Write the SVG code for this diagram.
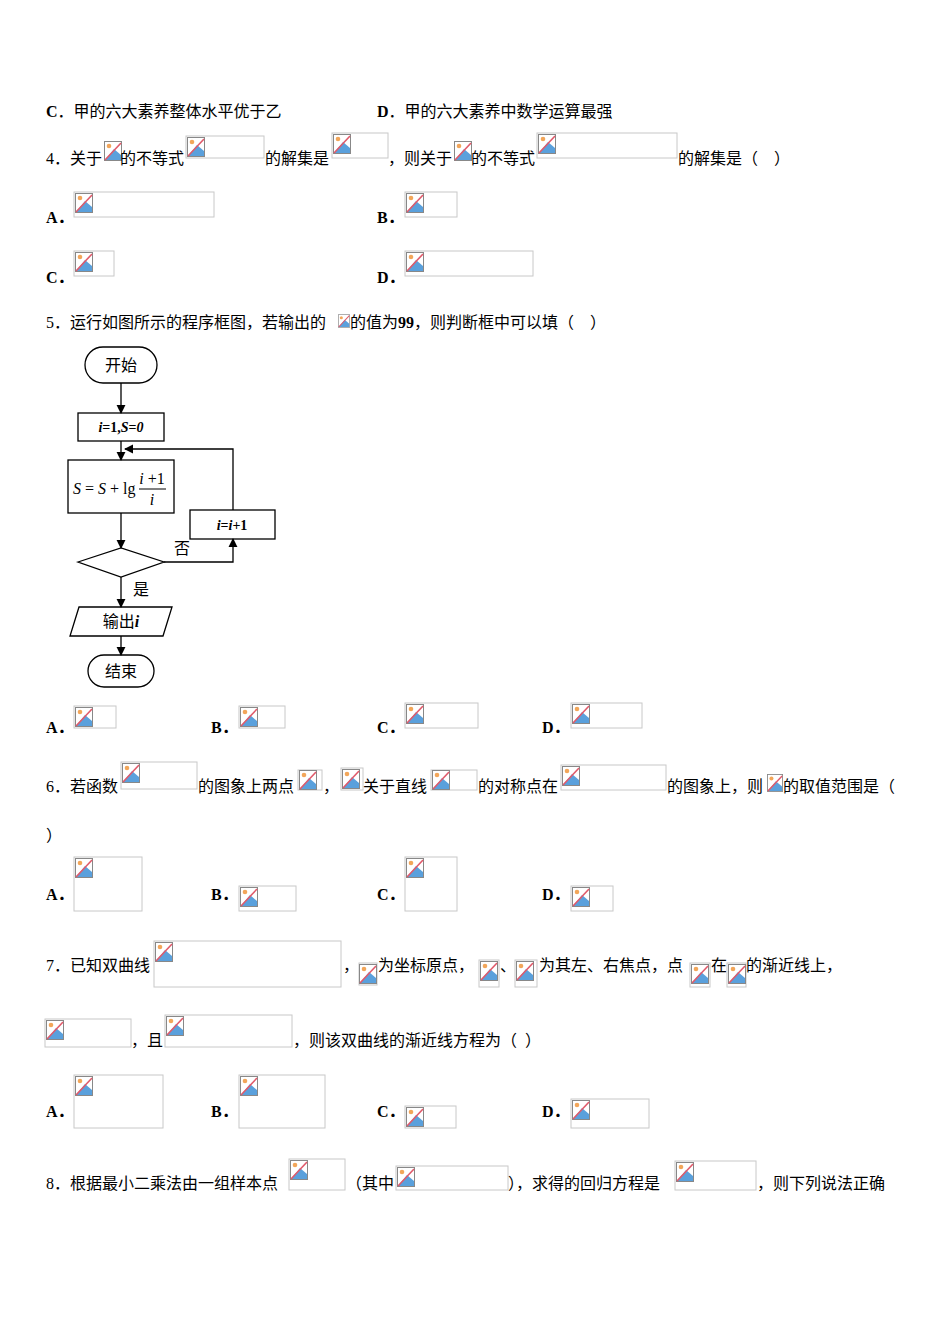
<svg xmlns="http://www.w3.org/2000/svg" xmlns:xlink="http://www.w3.org/1999/xlink" width="950" height="1344" viewBox="0 0 950 1344">
<style>
text{font-family:"Liberation Serif","Noto Sans CJK SC",serif;font-size:16px;fill:#000}
.b{font-weight:bold}
.bx{fill:none;stroke:#c8c8c8;stroke-width:1}
.fl{fill:none;stroke:#000;stroke-width:1.3}
.fc{font-size:16px}
.it{font-style:italic;font-weight:bold;font-size:14px}
</style>
<defs>
<symbol id="ic" viewBox="0 0 18 20" width="18" height="20">
<rect x="0.5" y="0.5" width="17" height="19" fill="#fff" stroke="#888"/>
<path d="M1 19 L10 8 L17 14 L17 19 Z" fill="#5aa0dc"/>
<circle cx="5" cy="5" r="2.3" fill="#f2a65a"/>
<line x1="1" y1="19" x2="17" y2="2" stroke="#e05a6a" stroke-width="1.6"/>
</symbol>
<marker id="ar" viewBox="0 0 10 10" refX="9" refY="5" markerWidth="7" markerHeight="7" orient="auto"><path d="M0 0 L10 5 L0 10 Z" fill="#000"/></marker>
</defs>
<rect width="950" height="1344" fill="#fff"/>

<text x="46" y="117"><tspan class="b">C</tspan>．甲的六大素养整体水平优于乙</text>
<text x="377" y="117"><tspan class="b">D</tspan>．甲的六大素养中数学运算最强</text>

<text x="46" y="164">4．关于</text><use href="#ic" x="104" y="141"/>
<text x="120" y="164">的不等式</text><rect class="bx" x="186" y="136" width="78" height="22"/><use href="#ic" x="187" y="137"/>
<text x="265" y="164">的解集是</text><rect class="bx" x="332" y="133" width="56" height="25"/><use href="#ic" x="333" y="134"/>
<text x="388" y="164">，则关于</text><use href="#ic" x="454" y="141"/>
<text x="471" y="164">的不等式</text><rect class="bx" x="537" y="133" width="140" height="25"/><use href="#ic" x="538" y="134"/>
<text x="678" y="164">的解集是（&#160;&#160;&#160;&#160;）</text>

<text x="46" y="223" class="b">A．</text><rect class="bx" x="74" y="192" width="140" height="25"/><use href="#ic" x="75" y="193"/>
<text x="377" y="223" class="b">B．</text><rect class="bx" x="405" y="192" width="52" height="25"/><use href="#ic" x="406" y="193"/>
<text x="46" y="283" class="b">C．</text><rect class="bx" x="74" y="251" width="40" height="25"/><use href="#ic" x="75" y="252"/>
<text x="377" y="283" class="b">D．</text><rect class="bx" x="405" y="251" width="128" height="25"/><use href="#ic" x="406" y="252"/>

<text x="46" y="328">5．运行如图所示的程序框图，若输出的</text><use href="#ic" x="338" y="311" width="12" height="20"/>
<text x="350" y="328">的值为<tspan class="b">99</tspan>，则判断框中可以填（&#160;&#160;&#160;&#160;）</text>

<g id="connectors">
<line class="fl" x1="121" y1="383" x2="121" y2="413" marker-end="url(#ar)"/>
<line class="fl" x1="121" y1="441" x2="121" y2="460" marker-end="url(#ar)"/>
<polyline class="fl" points="233,510 233,449 125,449" marker-end="url(#ar)"/>
<line class="fl" x1="121" y1="513" x2="121" y2="548" marker-end="url(#ar)"/>
<polyline class="fl" points="164,562 233,562 233,539" marker-end="url(#ar)"/>
<line class="fl" x1="121" y1="577" x2="121" y2="607" marker-end="url(#ar)"/>
<line class="fl" x1="121" y1="636" x2="121" y2="655" marker-end="url(#ar)"/>
</g>
<g id="start"><rect class="fl" x="85" y="347" width="72" height="36" rx="18"/><text class="fc" x="121" y="371" text-anchor="middle">开始</text></g>
<g id="init"><rect class="fl" x="78" y="413" width="86" height="28"/><text class="it" x="121" y="432" text-anchor="middle">i<tspan font-style="normal">=1,</tspan>S<tspan font-style="normal">=</tspan>0</text></g>
<g id="sum"><rect class="fl" x="68" y="460" width="106" height="53"/>
<text x="73" y="494" font-size="14"><tspan font-style="italic">S</tspan> = <tspan font-style="italic">S</tspan> + lg</text>
<text x="152" y="484" font-size="13" text-anchor="middle"><tspan font-style="italic">i</tspan> +1</text>
<line x1="139" y1="489" x2="166" y2="489" stroke="#000" stroke-width="1"/>
<text x="152" y="505" font-size="13" font-style="italic" text-anchor="middle">i</text></g>
<g id="inc"><rect class="fl" x="190" y="510" width="85" height="29"/><text class="it" x="232" y="530" text-anchor="middle">i<tspan font-style="normal">=</tspan>i<tspan font-style="normal">+1</tspan></text></g>
<g id="cond"><polygon class="fl" points="78,562 121,548 164,562 121,577"/></g>
<text x="174" y="554" font-size="14">否</text>
<text x="133" y="595" font-size="14">是</text>
<g id="out"><polygon class="fl" points="79,607 172,607 163,636 70,636"/><text class="fc" x="121" y="627" text-anchor="middle">输出<tspan font-style="italic" font-weight="bold">i</tspan></text></g>
<g id="end"><rect class="fl" x="88" y="655" width="66" height="32" rx="16"/><text class="fc" x="121" y="677" text-anchor="middle">结束</text></g>

<text x="46" y="733" class="b">A．</text><rect class="bx" x="74" y="706" width="42" height="22"/><use href="#ic" x="75" y="707"/>
<text x="211" y="733" class="b">B．</text><rect class="bx" x="239" y="706" width="46" height="22"/><use href="#ic" x="240" y="707"/>
<text x="377" y="733" class="b">C．</text><rect class="bx" x="405" y="703" width="73" height="25"/><use href="#ic" x="406" y="704"/>
<text x="542" y="733" class="b">D．</text><rect class="bx" x="571" y="703" width="71" height="25"/><use href="#ic" x="572" y="704"/>

<text x="46" y="792">6．若函数</text><rect class="bx" x="121" y="762" width="76" height="27"/><use href="#ic" x="122" y="763"/>
<text x="198" y="792">的图象上两点</text><rect class="bx" x="298" y="770" width="24" height="20"/><use href="#ic" x="299" y="770"/>
<text x="323" y="792">，</text><rect class="bx" x="341" y="768" width="22" height="22"/><use href="#ic" x="342" y="769"/>
<text x="363" y="792">关于直线</text><rect class="bx" x="431" y="770" width="46" height="20"/><use href="#ic" x="432" y="770"/>
<text x="478" y="792">的对称点在</text><rect class="bx" x="561" y="765" width="105" height="25"/><use href="#ic" x="562" y="766"/>
<text x="667" y="792">的图象上，则</text><use href="#ic" x="767" y="774" width="16" height="18"/>
<text x="783" y="792">的取值范围是（</text>
<text x="46" y="841">）</text>

<text x="46" y="900" class="b">A．</text><rect class="bx" x="74" y="857" width="68" height="54"/><use href="#ic" x="75" y="858"/>
<text x="211" y="900" class="b">B．</text><rect class="bx" x="239" y="886" width="57" height="25"/><use href="#ic" x="240" y="887"/>
<text x="377" y="900" class="b">C．</text><rect class="bx" x="405" y="857" width="52" height="54"/><use href="#ic" x="406" y="858"/>
<text x="542" y="900" class="b">D．</text><rect class="bx" x="571" y="886" width="42" height="25"/><use href="#ic" x="572" y="887"/>

<text x="46" y="971">7．已知双曲线</text><rect class="bx" x="154" y="941" width="187" height="46"/><use href="#ic" x="155" y="942"/>
<text x="343" y="971">，</text><rect class="bx" x="359" y="963" width="18" height="22"/><use href="#ic" x="359" y="964"/>
<text x="378" y="971">为坐标原点，</text><rect class="bx" x="479" y="960" width="20" height="27"/><use href="#ic" x="480" y="961"/>
<text x="500" y="971">、</text><rect class="bx" x="515" y="960" width="22" height="27"/><use href="#ic" x="516" y="961"/>
<text x="539" y="971">为其左、右焦点，点</text><rect class="bx" x="690" y="963" width="20" height="24"/><use href="#ic" x="691" y="964"/>
<text x="711" y="971">在</text><rect class="bx" x="727" y="963" width="19" height="24"/><use href="#ic" x="728" y="964"/>
<text x="746" y="971">的渐近线上，</text>

<rect class="bx" x="45" y="1019" width="86" height="28"/><use href="#ic" x="46" y="1020"/>
<text x="131" y="1046">，且</text><rect class="bx" x="165" y="1015" width="127" height="32"/><use href="#ic" x="166" y="1016"/>
<text x="293" y="1046">，则该双曲线的渐近线方程为（&#160;&#160;）</text>

<text x="46" y="1117" class="b">A．</text><rect class="bx" x="74" y="1075" width="89" height="53"/><use href="#ic" x="75" y="1076"/>
<text x="211" y="1117" class="b">B．</text><rect class="bx" x="239" y="1075" width="86" height="53"/><use href="#ic" x="240" y="1076"/>
<text x="377" y="1117" class="b">C．</text><rect class="bx" x="405" y="1106" width="51" height="22"/><use href="#ic" x="406" y="1107"/>
<text x="542" y="1117" class="b">D．</text><rect class="bx" x="571" y="1099" width="78" height="29"/><use href="#ic" x="572" y="1100"/>

<text x="46" y="1189">8．根据最小二乘法由一组样本点</text><rect class="bx" x="289" y="1159" width="56" height="31"/><use href="#ic" x="290" y="1160"/>
<text x="346" y="1189">（其中</text><rect class="bx" x="396" y="1166" width="112" height="24"/><use href="#ic" x="397" y="1167"/>
<text x="508" y="1189">），求得的回归方程是</text><rect class="bx" x="675" y="1161" width="81" height="29"/><use href="#ic" x="676" y="1162"/>
<text x="757" y="1189">，则下列说法正确</text>
</svg>
